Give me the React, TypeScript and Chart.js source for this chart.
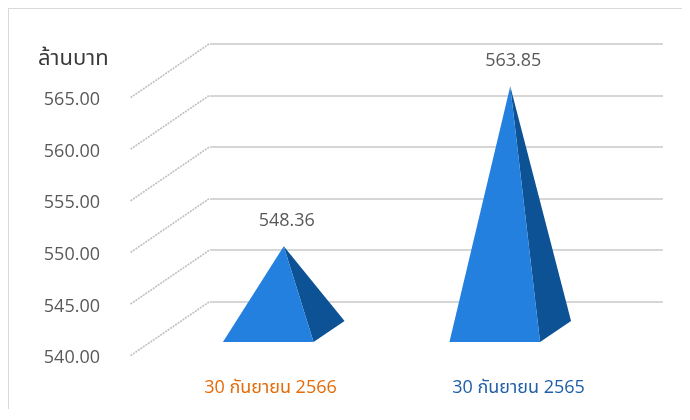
import React, { useEffect, useRef } from "react";
import { Chart, registerables } from "chart.js";

Chart.register(...registerables);

// ---- data ----
const categories = ["30 กันยายน 2566", "30 กันยายน 2565"];
const values = [548.36, 563.85];
const categoryColors = ["#E46C0A", "#1F5FA6"];
const yMin = 540;
const yMax = 565;
const yStep = 5;
const unitLabel = "ล้านบาท";

// ---- styling ----
const FONT = "'Open Sans', 'Noto Sans', 'Noto Sans Thai', 'Leelawadee UI', Tahoma, sans-serif";
const WALL_DX = -79; // back wall -> front edge (3D depth)
const WALL_DY = 54;
const FRONT_DX = -55; // back plane -> pyramid front base edge
const FRONT_DY = 41;
const DEPTH_DX = 31; // pyramid base depth
const DEPTH_DY = -21;
const FACE_FRONT = "#2480DE";
const FACE_SIDE = "#0E5296";
const LABEL_SPREAD = 0.413; // front-plane (perspective) widening of category labels

const depthPlugin = {
  id: "depth3d",
  beforeDatasetsDraw(chart: any) {
    const ys = chart.scales.y;
    const ctx = chart.ctx;
    const left = chart.chartArea.left;
    ctx.save();
    ctx.strokeStyle = "rgba(180,180,180,0.85)";
    ctx.lineWidth = 1.6;
    ctx.setLineDash([2, 1]);
    ys.ticks.forEach((t: any) => {
      const py = ys.getPixelForValue(t.value);
      ctx.beginPath();
      ctx.moveTo(left - 1, py);
      ctx.lineTo(left - 1 + WALL_DX, py + WALL_DY);
      ctx.stroke();
    });
    ctx.restore();
  },
  afterDatasetsDraw(chart: any) {
    const ctx = chart.ctx;
    const meta = chart.getDatasetMeta(0);
    ctx.save();
    meta.data.forEach((bar: any, i: number) => {
      const { x, y, base, width } = bar.getProps(["x", "y", "base", "width"], true);
      const fx = x + FRONT_DX;
      const fy = base + FRONT_DY;
      const half = width / 2;
      const FL = [fx - half, fy];
      const FR = [fx + half, fy];
      const BR = [FR[0] + DEPTH_DX, FR[1] + DEPTH_DY];
      const AP = [fx + DEPTH_DX / 2, y + FRONT_DY + DEPTH_DY / 2];
      // side face
      ctx.fillStyle = FACE_SIDE;
      ctx.beginPath();
      ctx.moveTo(FR[0], FR[1]);
      ctx.lineTo(BR[0], BR[1]);
      ctx.lineTo(AP[0], AP[1]);
      ctx.closePath();
      ctx.fill();
      // front face
      ctx.fillStyle = FACE_FRONT;
      ctx.beginPath();
      ctx.moveTo(FL[0], FL[1]);
      ctx.lineTo(FR[0], FR[1]);
      ctx.lineTo(AP[0], AP[1]);
      ctx.closePath();
      ctx.fill();
      // value label
      ctx.fillStyle = "#595959";
      ctx.font = `18px ${FONT}`;
      ctx.textAlign = "center";
      ctx.textBaseline = "middle";
      ctx.fillText(values[i].toFixed(2), AP[0] + 3, AP[1] - 25);
    });
    // unit title
    ctx.fillStyle = "#3a3a3a";
    ctx.font = `22px ${FONT}`;
    ctx.textAlign = "left";
    ctx.textBaseline = "alphabetic";
    ctx.fillText(unitLabel, 29, 56);
    ctx.restore();
  },
};

export default function App() {
  const ref = useRef<HTMLCanvasElement | null>(null);
  useEffect(() => {
    if (!ref.current) return;
    const chart = new Chart(ref.current, {
      type: "bar",
      data: {
        labels: categories,
        datasets: [
          {
            data: values,
            base: yMin,
            backgroundColor: "rgba(0,0,0,0)",
            borderWidth: 0,
            categoryPercentage: 0.5,
            barPercentage: 0.8,
          },
        ],
      },
      options: {
        animation: false,
        responsive: true,
        maintainAspectRatio: false,
        layout: { padding: { top: 35, right: 27, left: 0, bottom: 0 } },
        plugins: { legend: { display: false }, tooltip: { enabled: false }, title: { display: false } },
        scales: {
          x: {
            display: false,
            offset: true,
          },
          xLabels: {
            type: "linear",
            position: "bottom",
            offset: false,
            bounds: "data",
            min: -LABEL_SPREAD,
            max: categories.length - 1 + LABEL_SPREAD,
            grid: { display: false, drawTicks: false, offset: false },
            border: { display: false },
            afterBuildTicks: (s: any) => {
              s.ticks = categories.map((_, i) => ({ value: i }));
            },
            ticks: {
              color: (c: any) => categoryColors[c.index] || "#595959",
              font: { family: FONT, size: 18 },
              padding: 75,
              labelOffset: -42,
              maxRotation: 0,
              autoSkip: false,
              callback: (v: any) => categories[Math.round(Number(v))] ?? "",
            },
            afterFit: (s: any) => {
              s.height = 107;
              s.paddingLeft = 0;
              s.paddingRight = 0;
            },
          },
          y: {
            min: yMin,
            max: yMax,
            grid: { color: "#d6d6d6", lineWidth: 2, drawTicks: false },
            border: { display: false },
            ticks: {
              stepSize: yStep,
              color: "#595959",
              font: { family: FONT, size: 18 },
              padding: 110,
              labelOffset: 56,
              callback: (v: any) => Number(v).toFixed(2),
            },
            afterFit: (s: any) => {
              s.width = 201;
              s.paddingTop = 0;
              s.paddingBottom = 0;
            },
          },
        },
      },
      plugins: [depthPlugin],
    });
    return () => chart.destroy();
  }, []);
  return (
    <div
      style={{
        borderTop: "1px solid #d9d9d9",
        borderLeft: "1px solid #d9d9d9",
        marginRight: -8,
        height: 400,
        position: "relative",
      }}
    >
      <canvas ref={ref} />
    </div>
  );
}
